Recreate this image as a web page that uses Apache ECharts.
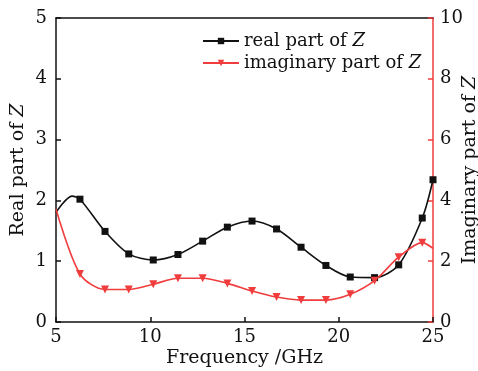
<!DOCTYPE html>
<html><head><meta charset="utf-8">
<script src="https://cdn.jsdelivr.net/npm/echarts@6/dist/echarts.min.js"></script>
<style>html,body{margin:0;padding:0;background:#fff}#c{width:478px;height:371px}</style>
</head><body><div id="c"></div>
<script>
// Marked data points (frequency in GHz)
var realFreq = [6.27, 7.6, 8.86, 10.16, 11.47, 12.78, 14.09, 15.4, 16.7, 18.0, 19.32, 20.61, 21.9, 23.18, 24.43, 25];
var realVals = [2.02, 1.49, 1.12, 1.02, 1.11, 1.33, 1.56, 1.66, 1.53, 1.23, 0.93, 0.74, 0.73, 0.94, 1.71, 2.34];
// Unmarked curve points
var realExtraFreq = [5, 5.85];
var realExtraVals = [1.80, 2.07];

var imagFreq = [6.27, 7.6, 8.86, 10.16, 11.47, 12.78, 14.09, 15.4, 16.7, 18.0, 19.32, 20.61, 21.9, 23.18, 24.43];
var imagVals = [1.58, 1.07, 1.07, 1.24, 1.44, 1.44, 1.27, 1.02, 0.82, 0.72, 0.72, 0.91, 1.36, 2.13, 2.61];
var imagExtraFreq = [5, 25];
var imagExtraVals = [3.72, 2.42];

var xTicks = [5, 10, 15, 20, 25];
var realTicks = [0, 1, 2, 3, 4, 5];
var imagTicks = [0, 2, 4, 6, 8, 10];

function build(f, v, ef, ev) {
  var d = [];
  f.forEach(function (x, i) { d.push({ value: [x, v[i]] }); });
  ef.forEach(function (x, i) { d.push({ value: [x, ev[i]], symbol: 'none' }); });
  d.sort(function (a, b) { return a.value[0] - b.value[0]; });
  return d;
}

var RED = '#f03c3c';
var FONT = 'DejaVu Serif';
var rich = { i: { fontStyle: 'italic', fontFamily: FONT, fontSize: 19, color: '#111' } };
var richL = { i: { fontStyle: 'italic', fontFamily: FONT, fontSize: 18, color: '#111' } };

var chart = echarts.init(document.getElementById('c'));
chart.setOption({
  animation: false,
  backgroundColor: '#fff',
  grid: { left: 56, right: 45, top: 18, bottom: 49, containLabel: false, outerBoundsMode: 'none' },
  legend: {
    orient: 'vertical', left: 197, top: 27, itemWidth: 36, itemHeight: 8, itemGap: 4,
    textStyle: { fontFamily: FONT, fontSize: 18, color: '#111', rich: richL },
    formatter: function (n) { return n === 'real' ? 'real part of {i|Z}' : 'imaginary part of {i|Z}'; },
    data: ['real', 'imag']
  },
  xAxis: [{
    type: 'value', min: xTicks[0], max: xTicks[xTicks.length - 1], interval: 5,
    name: 'Frequency /GHz', nameLocation: 'middle', nameGap: 27, nameMoveOverlap: false,
    nameTextStyle: { fontFamily: FONT, fontSize: 19, color: '#111' },
    axisLine: { show: true, lineStyle: { color: '#111', width: 1.5 } },
    axisTick: { show: true, inside: true, length: 5, lineStyle: { color: '#111', width: 1.5 } },
    axisLabel: { fontFamily: FONT, fontSize: 18, color: '#111', margin: 6 },
    splitLine: { show: false }
  }, {
    type: 'value', position: 'top', min: 5, max: 25,
    axisLine: { show: true, onZero: false, lineStyle: { color: '#111', width: 1.5 } },
    axisTick: { show: false }, axisLabel: { show: false }, splitLine: { show: false }
  }],
  yAxis: [{
    type: 'value', min: 0, max: 5, interval: 1, position: 'left',
    name: 'Real part of {i|Z}', nameLocation: 'middle', nameGap: 28, nameMoveOverlap: false,
    nameTextStyle: { fontFamily: FONT, fontSize: 19, color: '#111', rich: rich },
    axisLine: { show: true, lineStyle: { color: '#111', width: 1.5 } },
    axisTick: { show: true, inside: true, length: 5, lineStyle: { color: '#111', width: 1.5 } },
    axisLabel: { fontFamily: FONT, fontSize: 18, color: '#111', margin: 9 },
    splitLine: { show: false }
  }, {
    type: 'value', min: 0, max: 10, interval: 2, position: 'right',
    name: 'Imaginary part of {i|Z}', nameLocation: 'middle', nameGap: 28, nameRotate: 90, nameMoveOverlap: false,
    nameTextStyle: { fontFamily: FONT, fontSize: 19, color: '#111', rich: rich },
    axisLine: { show: true, lineStyle: { color: RED, width: 1.5 } },
    axisTick: { show: true, inside: true, length: 5, lineStyle: { color: RED, width: 1.5 } },
    axisLabel: { fontFamily: FONT, fontSize: 18, color: '#111', margin: 7 },
    splitLine: { show: false }
  }],
  series: [{
    name: 'real', type: 'line', xAxisIndex: 0, yAxisIndex: 0, smooth: 0.3,
    data: build(realFreq, realVals, realExtraFreq, realExtraVals),
    symbol: 'rect', symbolSize: 7, showAllSymbol: true,
    lineStyle: { color: '#111', width: 1.6 }, itemStyle: { color: '#111' }
  }, {
    name: 'imag', type: 'line', xAxisIndex: 0, yAxisIndex: 1, smooth: 0.3,
    data: build(imagFreq, imagVals, imagExtraFreq, imagExtraVals),
    symbol: 'triangle', symbolRotate: 180, symbolSize: 8, showAllSymbol: true,
    lineStyle: { color: RED, width: 1.6 }, itemStyle: { color: RED }
  }]
});
</script></body></html>
